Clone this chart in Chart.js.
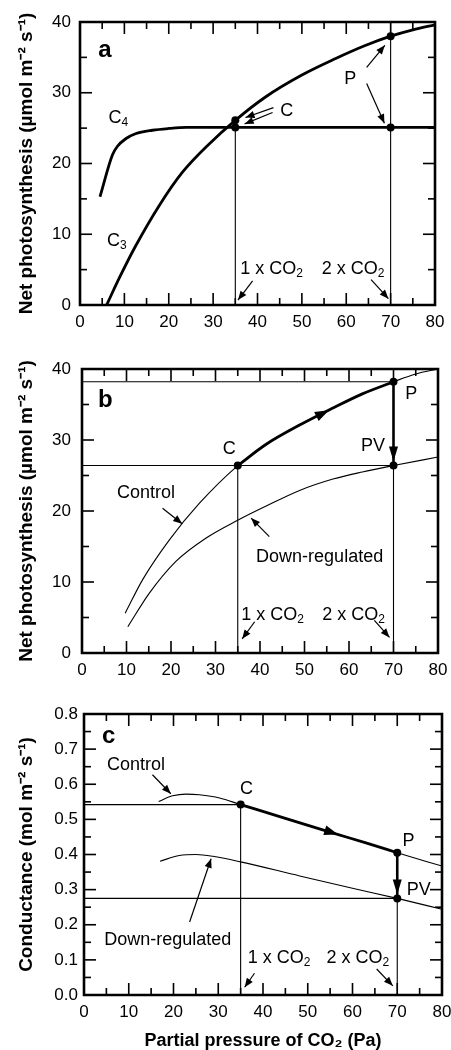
<!DOCTYPE html>
<html><head><meta charset="utf-8">
<script src="https://cdn.jsdelivr.net/npm/chart.js@4.4.0/dist/chart.umd.min.js"></script>
<style>
html,body{margin:0;padding:0;background:#fff;}
#wrap{position:relative;width:451px;height:1050px;overflow:hidden;background:#fff;}
canvas{position:absolute;left:0;}
</style></head><body>
<div id="wrap">
<canvas id="ca" width="451" height="340" style="top:0px"></canvas>
<canvas id="cb" width="451" height="340" style="top:345px"></canvas>
<canvas id="cc" width="451" height="360" style="top:690px"></canvas>
</div>
<script>
const FONT = "'Liberation Sans', Arial, Helvetica, sans-serif";

// ---------------- tick labels ----------------
const xTickLabels = ['0','10','20','30','40','50','60','70','80'];
const photoTickLabels = ['0','10','20','30','40'];
const condTickLabels = ['0.0','0.1','0.2','0.3','0.4','0.5','0.6','0.7','0.8'];

// ---------------- panel a: C3 / C4 ----------------
const aC3X = [6, 9, 12.5, 17.8, 23, 29, 35, 41.8, 50, 57.5, 64, 70, 75, 80];
const aC3Y = [0, 4.0, 8.3, 14.0, 18.7, 22.7, 26.1, 29.4, 32.5, 34.8, 36.6, 38.0, 38.9, 39.6];
const aC4X = [4.5, 7.3, 8.4, 10.3, 12.5, 16.3, 20, 24, 30, 35, 50, 70, 80];
const aC4Y = [15.3, 21.2, 22.4, 23.5, 24.2, 24.7, 24.95, 25.1, 25.1, 25.1, 25.1, 25.1, 25.1];
const aMarkX = [35, 35, 70, 70];
const aMarkY = [26.1, 25.1, 38.0, 25.1];
const aVLineX = [35, 70];
const aVLineTop = [25.1, 40];

// ---------------- panel b: photosynthesis control / down-regulated ----------------
const bCtrlX = [9.7, 13.6, 19.6, 26.4, 35, 41.4, 48.9, 56.4, 63, 70, 75, 80];
const bCtrlY = [5.6, 10.3, 15.9, 21.1, 26.4, 29.4, 32.1, 34.5, 36.5, 38.2, 39.3, 40.0];
const bDownX = [10.3, 15.1, 21.1, 27.9, 35, 41.4, 48.9, 56.4, 63, 70, 80];
const bDownY = [3.7, 8.4, 12.9, 16.2, 18.7, 20.7, 22.9, 24.5, 25.5, 26.4, 27.6];
const bMarkX = [35, 70, 70];
const bMarkY = [26.4, 38.2, 26.4];
const bHLineY = [38.2, 26.4];
const bHLineEnd = [70, 70];
const bVLineX = [35, 70];
const bVLineTop = [26.4, 26.4];

// ---------------- panel c: conductance ----------------
const cCtrlX = [16.7, 19.8, 22.8, 25.8, 30.3, 35, 45, 55.7, 63, 70, 80];
const cCtrlY = [0.551, 0.567, 0.572, 0.570, 0.561, 0.542, 0.503, 0.461, 0.433, 0.405, 0.367];
const cDownX = [17, 21.3, 25, 28.8, 35, 48.2, 60, 70, 80];
const cDownY = [0.381, 0.397, 0.400, 0.395, 0.379, 0.339, 0.304, 0.275, 0.244];
const cMarkX = [35, 70, 70];
const cMarkY = [0.542, 0.405, 0.275];
const cHLineY = [0.542, 0.275];
const cHLineEnd = [35, 70];
const cVLineX = [35, 70];
const cVLineTop = [0.542, 0.275];

// ---------------- helpers ----------------
const pts = (xs, ys) => xs.map((x, i) => ({x: x, y: ys[i]}));
function curve(data, w) {
  return {data: data, borderColor: '#000', borderWidth: w, pointRadius: 0,
          cubicInterpolationMode: 'monotone', fill: false, showLine: true};
}
function straight(data, w) {
  return {data: data, borderColor: '#000', borderWidth: w, pointRadius: 0,
          tension: 0, fill: false, showLine: true, borderCapStyle: 'butt'};
}
function markers(data) {
  return {data: data, showLine: false, pointRadius: 4, pointHoverRadius: 4,
          pointBackgroundColor: '#000', pointBorderWidth: 0, borderColor: '#000'};
}
function labelFrom(list, v) {
  for (let k = 0; k < list.length; k++) { if (Math.abs(Number(list[k]) - v) < 1e-6) return list[k]; }
  return '';
}

function arrowHead(ctx, x0, y0, x1, y1, len, hw) {
  const dx = x1 - x0, dy = y1 - y0, d = Math.hypot(dx, dy) || 1;
  const ux = dx / d, uy = dy / d;
  const bx = x1 - ux * len, by = y1 - uy * len;
  ctx.beginPath();
  ctx.moveTo(x1, y1);
  ctx.lineTo(bx - uy * hw, by + ux * hw);
  ctx.lineTo(bx + uy * hw, by - ux * hw);
  ctx.closePath();
  ctx.fill();
}

function drawLabel(ctx, px, py, lab) {
  const size = lab.size || 18;
  const main = (lab.bold ? 'bold ' : '') + size + 'px ' + FONT;
  const sub = Math.round(size * 0.68) + 'px ' + FONT;
  let w = 0;
  lab.parts.forEach(p => { ctx.font = p[1] ? sub : main; w += ctx.measureText(p[0]).width; });
  let sx = lab.align === 'center' ? px - w / 2 : px;
  const base = lab.base ? py : py + 0.36 * size;
  ctx.textAlign = 'left';
  ctx.textBaseline = 'alphabetic';
  lab.parts.forEach(p => {
    ctx.font = p[1] ? sub : main;
    ctx.fillText(p[0], sx, p[1] ? base + 0.16 * size : base);
    sx += ctx.measureText(p[0]).width;
  });
}

function figurePlugin(notes) {
  return {
    id: 'figure_' + notes.name,
    afterDraw(chart) {
      const ctx = chart.ctx, ca = chart.chartArea, xs = chart.scales.x, ys = chart.scales.y;
      const X = v => xs.getPixelForValue(v), Y = v => ys.getPixelForValue(v);
      ctx.save();
      ctx.globalCompositeOperation = 'source-over';
      ctx.globalAlpha = 1;
      ctx.fillStyle = '#000';
      ctx.strokeStyle = '#000';
      // inward tick marks on all four sides, built from the scales' own tick lists
      const tw = 1.6;
      xs.getTicks().forEach(t => {
        const p = X(t.value);
        const len = labelFrom(xTickLabels, t.value) !== '' ? 12 : 7;
        ctx.fillRect(p - tw / 2, ca.bottom - len, tw, len);
        ctx.fillRect(p - tw / 2, ca.top, tw, len);
      });
      ys.getTicks().forEach(t => {
        const p = Y(t.value);
        const len = labelFrom(notes.yLabels, t.value) !== '' ? 12 : 7;
        ctx.fillRect(ca.left, p - tw / 2, len, tw);
        ctx.fillRect(ca.right - len, p - tw / 2, len, tw);
      });
      // frame
      ctx.lineWidth = 2.6;
      ctx.beginPath();
      ctx.rect(ca.left, ca.top, ca.right - ca.left, ca.bottom - ca.top);
      ctx.stroke();
      // heavy vertical arrow head (P -> PV)
      if (notes.drop) {
        const d = notes.drop;
        const tipY = Y(d[2]) - 4;
        arrowHead(ctx, X(d[0]), Y(d[1]), X(d[0]), tipY, 15, 4.5);
      }
      // arrow head on thick path
      if (notes.mid) {
        const m = notes.mid;
        arrowHead(ctx, X(m[0]), Y(m[1]), X(m[2]), Y(m[3]), 14, 5);
      }
      // pointer arrows
      ctx.lineWidth = 1.2;
      notes.pointers.forEach(a => {
        const x0 = X(a[0]), y0 = Y(a[1]), x1 = X(a[2]), y1 = Y(a[3]);
        ctx.beginPath(); ctx.moveTo(x0, y0); ctx.lineTo(x1, y1); ctx.stroke();
        arrowHead(ctx, x0, y0, x1, y1, 9, 3.6);
      });
      // text labels
      notes.labels.forEach(l => drawLabel(ctx, X(l.x), Y(l.y), l));
      ctx.restore();
    }
  };
}

function makeChart(id, cfg) {
  cfg.notes.yLabels = cfg.yLabels;
  new Chart(document.getElementById(id), {
    type: 'line',
    data: {datasets: cfg.datasets},
    options: {
      responsive: false, animation: false, devicePixelRatio: 1, events: [],
      layout: {padding: {top: cfg.padTop, right: cfg.padRight, left: 0, bottom: 0}},
      plugins: {legend: {display: false}, tooltip: {enabled: false}},
      scales: {
        x: {
          type: 'linear', position: 'bottom', min: 0, max: 80,
          grid: {display: false, drawTicks: false}, border: {display: false},
          ticks: {stepSize: 5, autoSkip: false, maxRotation: 0, padding: 7, color: '#000',
                  font: {family: FONT, size: 17},
                  callback: v => labelFrom(xTickLabels, v)},
          title: cfg.xTitle ? {display: true, text: cfg.xTitle, color: '#000',
                  font: {family: FONT, size: 18, weight: 'bold', lineHeight: 1},
                  padding: {top: 0, bottom: 0}} : {display: false},
          afterFit: s => { s.height = cfg.xHeight; s.paddingLeft = 0; s.paddingRight = 0; }
        },
        y: {
          type: 'linear', position: 'left', min: 0, max: cfg.yMax,
          grid: {display: false, drawTicks: false}, border: {display: false},
          ticks: {stepSize: cfg.yStep, autoSkip: false, padding: cfg.yPad, color: '#000',
                  font: {family: FONT, size: 17},
                  callback: v => labelFrom(cfg.yLabels, v)},
          title: {display: true, text: cfg.yTitle, color: '#000',
                  font: {family: FONT, size: 19, weight: 'bold', lineHeight: 1},
                  padding: {top: 17, bottom: 0}},
          afterFit: s => { s.width = cfg.yWidth; s.paddingTop = 0; s.paddingBottom = 0; }
        }
      }
    },
    plugins: [figurePlugin(cfg.notes)]
  });
}

const photoTitle = 'Net photosynthesis (\u00B5mol m\u207B\u00B2 s\u207B\u00B9)';
const condTitle = 'Conductance (mol m\u207B\u00B2 s\u207B\u00B9)';

// ---------------- chart a ----------------
makeChart('ca', {
  padTop: 22, padRight: 16, yWidth: 80, xHeight: 35, yPad: 9,
  yMax: 40, yStep: 5, yLabels: photoTickLabels, yTitle: photoTitle,
  datasets: [
    markers(pts(aMarkX, aMarkY)),
    curve(pts(aC3X, aC3Y), 2.8),
    curve(pts(aC4X, aC4Y), 2.8),
    straight([{x: aVLineX[0], y: 0}, {x: aVLineX[0], y: aVLineTop[0]}], 1.1),
    straight([{x: aVLineX[1], y: 0}, {x: aVLineX[1], y: aVLineTop[1]}], 1.1)
  ],
  notes: {
    name: 'a',
    labels: [
      {parts: [['a']], x: 4.1, y: 35.0, bold: true, size: 24, base: true},
      {parts: [['C'], ['4', 1]], x: 6.4, y: 26.6},
      {parts: [['C'], ['3', 1]], x: 6.1, y: 9.2},
      {parts: [['C']], x: 46.6, y: 27.6, align: 'center'},
      {parts: [['P']], x: 60.9, y: 32.1, align: 'center'},
      {parts: [['1 x CO'], ['2', 1]], x: 36.1, y: 5.3},
      {parts: [['2 x CO'], ['2', 1]], x: 54.5, y: 5.3}
    ],
    pointers: [
      [43.6, 27.9, 37.3, 26.5], [43.4, 27.2, 37.1, 25.6],
      [64.6, 33.6, 68.7, 36.7], [64.6, 31.3, 68.6, 25.7],
      [38.9, 3.4, 35.6, 0.7], [65.6, 3.6, 69.5, 0.9]
    ]
  }
});

// ---------------- chart b ----------------
makeChart('cb', {
  padTop: 24, padRight: 13, yWidth: 82, xHeight: 32, yPad: 11,
  yMax: 40, yStep: 5, yLabels: photoTickLabels, yTitle: photoTitle,
  datasets: [
    markers(pts(bMarkX, bMarkY)),
    curve(pts(bCtrlX.slice(4, 10), bCtrlY.slice(4, 10)), 2.8),
    straight([{x: 70, y: bMarkY[1]}, {x: 70, y: bMarkY[2]}], 2.6),
    curve(pts(bCtrlX, bCtrlY), 1.1),
    curve(pts(bDownX, bDownY), 1.1),
    straight([{x: 0, y: bHLineY[0]}, {x: bHLineEnd[0], y: bHLineY[0]}], 1.1),
    straight([{x: 0, y: bHLineY[1]}, {x: bHLineEnd[1], y: bHLineY[1]}], 1.1),
    straight([{x: bVLineX[0], y: 0}, {x: bVLineX[0], y: bVLineTop[0]}], 1.1),
    straight([{x: bVLineX[1], y: 0}, {x: bVLineX[1], y: bVLineTop[1]}], 1.1)
  ],
  notes: {
    name: 'b',
    drop: [70, 38.2, 26.4],
    mid: [51, 32.8, 55.5, 34.2],
    labels: [
      {parts: [['b']], x: 3.6, y: 34.6, bold: true, size: 24, base: true},
      {parts: [['C']], x: 33.1, y: 28.9, align: 'center'},
      {parts: [['P']], x: 74.0, y: 36.7, align: 'center'},
      {parts: [['PV']], x: 65.4, y: 29.4, align: 'center'},
      {parts: [['Control']], x: 14.4, y: 22.8, align: 'center'},
      {parts: [['Down-regulated']], x: 53.4, y: 13.8, align: 'center'},
      {parts: [['1 x CO'], ['2', 1]], x: 35.8, y: 5.6},
      {parts: [['2 x CO'], ['2', 1]], x: 54.0, y: 5.6}
    ],
    pointers: [
      [18.1, 20.4, 22.5, 18.2], [42.1, 16.4, 38.0, 19.0],
      [38.8, 4.4, 36.0, 2.0], [65.7, 4.6, 69.1, 2.2]
    ]
  }
});

// ---------------- chart c ----------------
makeChart('cc', {
  padTop: 24, padRight: 9, yWidth: 84, xHeight: 55, yPad: 6,
  yMax: 0.8, yStep: 0.05, yLabels: condTickLabels, yTitle: condTitle,
  xTitle: 'Partial pressure of CO\u2082 (Pa)',
  datasets: [
    markers(pts(cMarkX, cMarkY)),
    curve(pts(cCtrlX.slice(5, 10), cCtrlY.slice(5, 10)), 2.8),
    straight([{x: 70, y: cMarkY[1]}, {x: 70, y: cMarkY[2]}], 2.6),
    curve(pts(cCtrlX, cCtrlY), 1.1),
    curve(pts(cDownX, cDownY), 1.1),
    straight([{x: 0, y: cHLineY[0]}, {x: cHLineEnd[0], y: cHLineY[0]}], 1.1),
    straight([{x: 0, y: cHLineY[1]}, {x: cHLineEnd[1], y: cHLineY[1]}], 1.1),
    straight([{x: cVLineX[0], y: 0}, {x: cVLineX[0], y: cVLineTop[0]}], 1.1),
    straight([{x: cVLineX[1], y: 0}, {x: cVLineX[1], y: cVLineTop[1]}], 1.1)
  ],
  notes: {
    name: 'c',
    drop: [70, 0.405, 0.275],
    mid: [50, 0.484, 56.8, 0.457],
    labels: [
      {parts: [['c']], x: 4.0, y: 0.717, bold: true, size: 24, base: true},
      {parts: [['Control']], x: 11.6, y: 0.660, align: 'center'},
      {parts: [['C']], x: 36.3, y: 0.592, align: 'center'},
      {parts: [['P']], x: 72.5, y: 0.444, align: 'center'},
      {parts: [['PV']], x: 74.8, y: 0.303, align: 'center'},
      {parts: [['Down-regulated']], x: 18.7, y: 0.161, align: 'center'},
      {parts: [['1 x CO'], ['2', 1]], x: 36.6, y: 0.11},
      {parts: [['2 x CO'], ['2', 1]], x: 54.2, y: 0.11}
    ],
    pointers: [
      [15.3, 0.627, 19.4, 0.573], [23.6, 0.208, 28.4, 0.388],
      [38.1, 0.062, 35.9, 0.022], [65.4, 0.074, 69.0, 0.026]
    ]
  }
});
</script>
</body></html>
